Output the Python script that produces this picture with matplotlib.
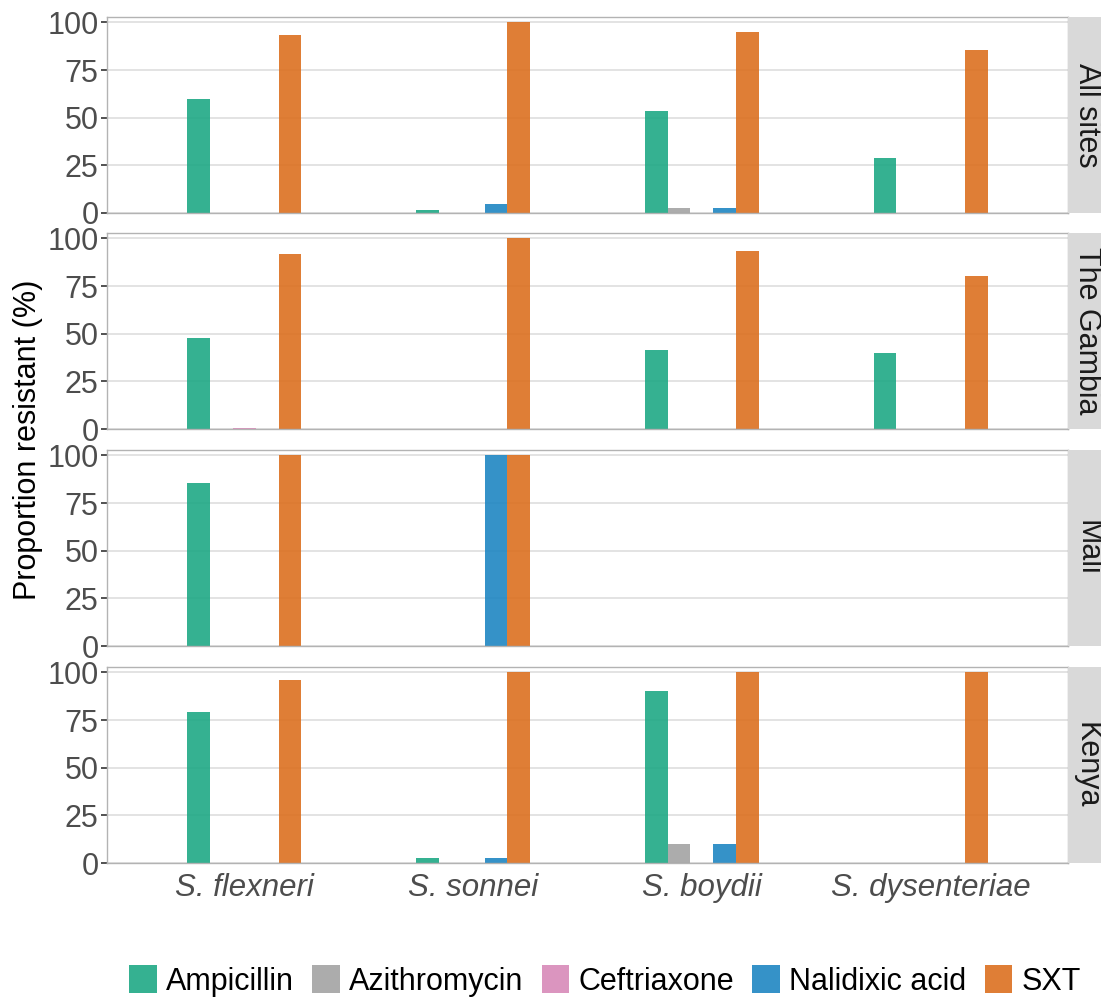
import numpy as np
import matplotlib.pyplot as plt
from matplotlib.patches import Rectangle, Patch

plt.rcParams['font.family'] = ['Liberation Sans', 'DejaVu Sans']

species = ['S. flexneri', 'S. sonnei', 'S. boydii', 'S. dysenteriae']
sites = ['All sites', 'The Gambia', 'Mali', 'Kenya']
drugs = ['Ampicillin', 'Azithromycin', 'Ceftriaxone', 'Nalidixic acid', 'SXT']
colors = ['#1fa985', '#a3a3a3', '#d88ab8', '#1f86c2', '#dc7020']

# proportion resistant (%), rows = species, cols = drugs
all_sites = [[59.7, 0, 0, 0, 93.2],
             [1.5, 0, 0, 4.8, 100],
             [53.5, 2.4, 0, 2.4, 94.8],
             [28.6, 0, 0, 0, 85.7]]
gambia = [[47.6, 0, 0.3, 0, 91.6],
          [0, 0, 0, 0, 100],
          [41.4, 0, 0, 0, 93.1],
          [40, 0, 0, 0, 80]]
mali = [[85.7, 0, 0, 0, 100],
        [0, 0, 0, 100, 100],
        [0, 0, 0, 0, 0],
        [0, 0, 0, 0, 0]]
kenya = [[79.2, 0, 0, 0, 96.2],
         [2.5, 0, 0, 2.5, 100],
         [90, 10, 0, 10, 100],
         [0, 0, 0, 0, 100]]
panels = [all_sites, gambia, mali, kenya]

W, H = 1101, 997
fig = plt.figure(figsize=(W / 100, H / 100), dpi=100)

tops = [17, 233, 450, 667]
ph = 196
left, right = 107, 1068
x = np.arange(1, len(species) + 1)
bw = 0.1

for i, (site, data) in enumerate(zip(sites, panels)):
    ax = fig.add_axes([left / W, 1 - (tops[i] + ph) / H, (right - left) / W, ph / H])
    vals = np.array(data)
    for j, drug in enumerate(drugs):
        ax.bar(x + (j - 2) * bw, vals[:, j], width=bw, color=colors[j],
               alpha=0.9, zorder=2, linewidth=0)
    ax.set_xlim(0.4, 4.6)
    ax.set_ylim(0, 102.8)
    ax.set_yticks([0, 25, 50, 75, 100])
    ax.grid(axis='y', color='#dedede', linewidth=1.2, zorder=0)
    ax.set_axisbelow(True)
    for s in ax.spines.values():
        s.set_color('#b3b3b3')
        s.set_linewidth(1.0)
    ax.tick_params(axis='y', labelsize=22, labelcolor='#4d4d4d', color='#333333',
                   length=4, width=1.2, pad=2)
    if i < 3:
        ax.set_xticks([])
    else:
        ax.set_xticks(x)
        ax.set_xticklabels(species, fontsize=22.5, style='italic', color='#4d4d4d')
        ax.tick_params(axis='x', length=0, pad=7)
    # facet strip
    fig.patches.append(Rectangle((right / W, 1 - (tops[i] + ph) / H), 60 / W, ph / H,
                                 transform=fig.transFigure, facecolor='#d9d9d9',
                                 edgecolor='none', zorder=0))
    fig.text((right + 19) / W, 1 - (tops[i] + ph / 2) / H, site, rotation=270,
             fontsize=22, color='#1a1a1a', ha='center', va='center')

fig.text(28 / W, 1 - 440 / H, 'Proportion resistant (%)', rotation=90,
         fontsize=22, ha='center', va='center')

handles = [Patch(facecolor=c, alpha=0.9, edgecolor='none') for c in colors]
fig.legend(handles, drugs, loc='center', bbox_to_anchor=(605 / W, 1 - 981 / H),
           ncol=5, frameon=False, fontsize=22, handlelength=0.9, handleheight=1.0,
           handletextpad=0.3, columnspacing=0.6, borderpad=0)

fig.savefig('out.png', dpi=100)
